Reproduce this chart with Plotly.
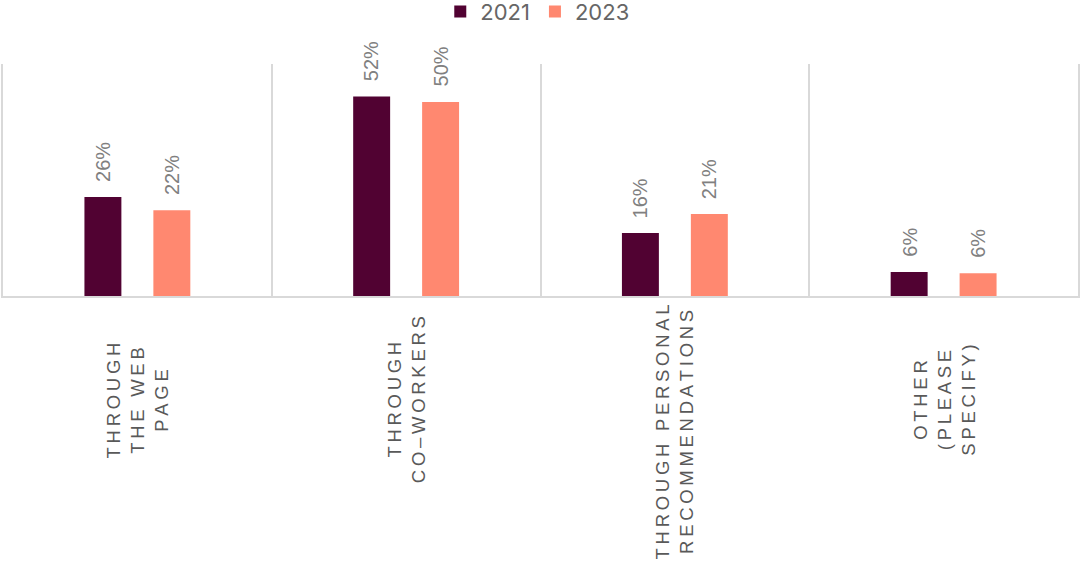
import plotly.graph_objects as go

categories = ["THROUGH\nTHE WEB\nPAGE", "THROUGH\nCO\u2013WORKERS",
              "THROUGH PERSONAL\nRECOMMENDATIONS", "OTHER\n(PLEASE\nSPECIFY)"]
values_2021 = [25.6, 51.6, 16.3, 6.2]
values_2023 = [22.2, 50.2, 21.2, 5.9]
series_names = ["2021", "2023"]
colors = ["#510232", "#FF8870"]

BARGAP = 0.487
BARGROUPGAP = 0.464
THIN = "\u2009"
# vertical placement of each rotated category label (style only)
label_anchor = ["middle", "middle", "top", "middle"]


def spaced(label):
    lines = []
    for line in label.split("\n"):
        words = [THIN.join(list(w)) for w in line.split(" ")]
        lines.append((THIN + " " + THIN).join(words))
    return "<br>".join(lines)


x_idx = list(range(len(categories)))
fig = go.Figure()
for name, vals, col in zip(series_names, [values_2021, values_2023], colors):
    fig.add_trace(go.Bar(
        x=x_idx, y=vals, name=name,
        marker=dict(color=col, line=dict(width=0)),
        hoverinfo="skip",
    ))

off = (1 - BARGAP) / 4
annotations = []
for k, vals in enumerate([values_2021, values_2023]):
    sgn = -1 if k == 0 else 1
    for i, v in enumerate(vals):
        annotations.append(dict(
            x=i + sgn * off, y=v, xref="x", yref="y",
            text=f"{v:.0f}%", showarrow=False, textangle=-90,
            xanchor="center", yanchor="bottom", yshift=13,
            font=dict(family="Liberation Sans, Arial", size=20, color="#808080"),
        ))

for i, c in enumerate(categories):
    anc = label_anchor[i]
    annotations.append(dict(
        x=i, y=0, xref="x", yref="paper",
        text=spaced(c), showarrow=False, textangle=-90,
        xanchor="center", yanchor=anc,
        yshift=(-104 if anc == "middle" else -6), align="center",
        font=dict(family="Liberation Sans, Arial", size=18.5, color="#595959"),
    ))

fig.update_layout(
    width=1081, height=563,
    margin=dict(l=3, r=3, t=64, b=267, autoexpand=False),
    paper_bgcolor="white", plot_bgcolor="white",
    barmode="group", bargap=BARGAP, bargroupgap=BARGROUPGAP,
    showlegend=True,
    legend=dict(orientation="h", x=0.497, xanchor="center",
                yref="paper", y=1.225, yanchor="middle",
                font=dict(family="Inter, Lato, sans-serif", size=22, color="#666666"),
                itemclick=False, itemdoubleclick=False),
    xaxis=dict(type="category", range=[-0.5, len(categories) - 0.5],
               tickmode="array", tickvals=x_idx, ticktext=[""] * len(categories),
               tickson="boundaries", showgrid=True, gridcolor="#d9d9d9", gridwidth=1.5,
               showline=True, linecolor="#d9d9d9", linewidth=2,
               ticks="", zeroline=False, fixedrange=True),
    yaxis=dict(range=[0, 60], showticklabels=False, showgrid=False, zeroline=False,
               showline=True, linecolor="#d9d9d9", linewidth=1.5, mirror=True,
               ticks="", fixedrange=True),
    annotations=annotations,
)

fig.write_html("out.html", config={"displayModeBar": False},
               post_script="document.body.style.margin='0';document.body.style.padding='0';")
